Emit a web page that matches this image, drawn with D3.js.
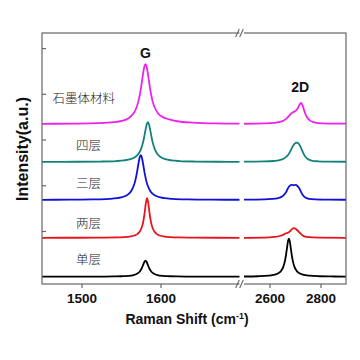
<!DOCTYPE html>
<html><head><meta charset="utf-8">
<script src="https://cdn.jsdelivr.net/npm/d3@7/dist/d3.min.js"></script>
<style>html,body{margin:0;padding:0;background:#fff;}svg{display:block;}</style>
</head><body><svg id="c" width="360" height="360"></svg>
<script>
// ---- data ----
const seriesNames = ["单层", "两层", "三层", "四层", "石墨体材料"];
const seriesColors = ["#000000", "#e8141c", "#1010d8", "#13827a", "#ee22ee"];
const seriesOffsets = [0, 0.85, 1.68, 2.51, 3.34];
const xTicksLeft = [1500, 1600];
const xTicksRight = [2600, 2800];
const yTicks = [1, 2, 3, 4, 5];

// G band (shift, intensity) per series
const gShift = [
  [1450,1491,1521,1541,1551,1559,1565,1569,1572,1574,1576,1578,1579.5,1581,1582.5,1584,1586,1588,1590,1593,1597,1603,1611,1621,1641,1671,1700],
  [1450,1493,1523,1543,1553,1561,1567,1571,1574,1576,1578,1580,1581.5,1583,1584.5,1586,1588,1590,1592,1595,1599,1605,1613,1623,1643,1673,1700],
  [1450,1485,1515,1535,1545,1553,1559,1563,1566,1568,1570,1572,1573.5,1575,1576.5,1578,1580,1582,1584,1587,1591,1597,1605,1615,1635,1665,1700],
  [1450,1494,1524,1544,1554,1562,1568,1572,1575,1577,1579,1581,1582.5,1584,1585.5,1587,1589,1591,1593,1596,1600,1606,1614,1624,1644,1674,1700],
  [1450,1491,1521,1541,1551,1559,1565,1569,1572,1574,1576,1578,1579.5,1581,1582.5,1584,1586,1588,1590,1593,1597,1603,1611,1621,1641,1671,1700]
];
const gIntensity = [
  [0.0005,0.0011,0.0024,0.0054,0.0095,0.017,0.031,0.052,0.083,0.118,0.175,0.257,0.321,0.35,0.321,0.257,0.175,0.118,0.083,0.052,0.031,0.017,0.0095,0.0054,0.0024,0.0011,0.0006],
  [0.0008,0.0017,0.0038,0.0086,0.015,0.028,0.051,0.087,0.144,0.214,0.339,0.557,0.763,0.87,0.763,0.557,0.339,0.214,0.144,0.087,0.051,0.028,0.015,0.0086,0.0038,0.0017,0.001],
  [0.002,0.0043,0.0097,0.0216,0.0377,0.068,0.121,0.196,0.302,0.415,0.578,0.784,0.922,0.98,0.922,0.784,0.578,0.415,0.302,0.196,0.121,0.068,0.0377,0.0216,0.0097,0.0043,0.0025],
  [0.0018,0.0038,0.0086,0.019,0.0335,0.06,0.107,0.174,0.268,0.369,0.513,0.696,0.819,0.87,0.819,0.696,0.513,0.369,0.268,0.174,0.107,0.06,0.0335,0.019,0.0086,0.0038,0.0025],
  [0.0038,0.0079,0.0176,0.039,0.068,0.12,0.211,0.333,0.494,0.655,0.867,1.107,1.252,1.31,1.252,1.107,0.867,0.655,0.494,0.35,0.23,0.15,0.10,0.06,0.03,0.012,0.007]
];

// 2D band (shift, intensity) per series
const dShift = [
  [2500,2556,2596,2621,2636,2646,2654,2660,2665,2669,2673,2676,2679,2683,2687,2692,2698,2706,2716,2731,2756,2796,2852,2900],
  [2500,2600,2620,2640,2655,2665,2672,2680,2688,2695,2702,2710,2720,2730,2745,2770,2800,2900],
  [2500,2580,2610,2630,2645,2655,2665,2672,2680,2687,2695,2703,2710,2718,2725,2733,2742,2755,2780,2830,2900],
  [2500,2580,2615,2640,2655,2665,2675,2683,2690,2697,2704,2711,2718,2725,2732,2740,2750,2765,2790,2830,2900],
  [2500,2580,2620,2645,2660,2672,2682,2690,2700,2708,2714,2720,2724,2728,2734,2740,2748,2758,2770,2790,2830,2900]
];
const dIntensity = [
  [0.0045,0.0096,0.021,0.044,0.079,0.131,0.215,0.33,0.484,0.643,0.789,0.83,0.789,0.643,0.484,0.33,0.215,0.131,0.079,0.044,0.021,0.0096,0.0045,0.003],
  [0,0.01,0.02,0.04,0.07,0.1,0.11,0.14,0.19,0.21,0.2,0.16,0.1,0.05,0.02,0.008,0.004,0],
  [0.005,0.01,0.02,0.035,0.06,0.1,0.17,0.25,0.31,0.33,0.32,0.33,0.3,0.24,0.16,0.09,0.045,0.02,0.01,0.005,0.003],
  [0.005,0.01,0.02,0.04,0.07,0.11,0.17,0.25,0.33,0.39,0.42,0.415,0.37,0.29,0.2,0.12,0.065,0.03,0.014,0.007,0.004],
  [0.005,0.012,0.025,0.05,0.09,0.15,0.21,0.25,0.28,0.32,0.38,0.44,0.46,0.43,0.33,0.23,0.14,0.08,0.045,0.02,0.01,0.006]
];

// ---- drawing ----
const svg = d3.select("#c");
const L = 42, R = 346, T = 33, B = 284;
const xL = d3.scaleLinear().domain([1450, 1700]).range([L, 239.5]);
const xR = d3.scaleLinear().domain([2500, 2900]).range([244, R]);
const y = d3.scaleLinear().domain([-0.16, 5.33]).range([B, T]);

const g = svg.append("g");

function drawSeg(xs, ys, xScale, off, color) {
  const pts = xs.map((v, i) => [v, ys[i] + off]);
  const line = d3.line().x(d => xScale(d[0])).y(d => y(d[1])).curve(d3.curveMonotoneX);
  g.append("path").datum(pts).attr("d", line)
    .attr("fill", "none").attr("stroke", color).attr("stroke-width", 1.8)
    .attr("stroke-linejoin", "round");
}
seriesNames.forEach((n, i) => {
  drawSeg(gShift[i], gIntensity[i], xL, seriesOffsets[i], seriesColors[i]);
  drawSeg(dShift[i], dIntensity[i], xR, seriesOffsets[i], seriesColors[i]);
});

// frame
const frameColor = "#666";
svg.append("rect").attr("x", L).attr("y", T).attr("width", R - L).attr("height", B - T)
  .attr("fill", "none").attr("stroke", frameColor).attr("stroke-width", 1.2);

// axes
const fmt = d3.format("d");
const axB1 = svg.append("g").attr("transform", `translate(0,${B})`)
  .call(d3.axisBottom(xL).tickValues(xTicksLeft).tickFormat(fmt).tickSize(4).tickPadding(5));
const axB2 = svg.append("g").attr("transform", `translate(0,${B})`)
  .call(d3.axisBottom(xR).tickValues(xTicksRight).tickFormat(fmt).tickSize(4).tickPadding(5));
const axY = svg.append("g").attr("transform", `translate(${L},0)`)
  .call(d3.axisLeft(y).tickValues(yTicks).tickSizeInner(-4).tickSizeOuter(0).tickFormat(""));
[axB1, axB2, axY].forEach(a => {
  a.select(".domain").remove();
  a.selectAll("line").attr("stroke", frameColor).attr("stroke-width", 1.2);
  a.selectAll("text").attr("font-family", "Liberation Sans, Arial, sans-serif")
    .attr("font-weight", "bold").attr("font-size", 13.5).attr("fill", "#111");
});

// break marks
[T, B].forEach(yy => {
  svg.append("rect").attr("x", 239.5).attr("y", yy - 1).attr("width", 4.5).attr("height", 2).attr("fill", "#fff");
  [237.5, 241.5].forEach(xx => {
    svg.append("line").attr("x1", xx - 1.8).attr("y1", yy + 4).attr("x2", xx + 1.8).attr("y2", yy - 4)
      .attr("stroke", frameColor).attr("stroke-width", 1.1);
  });
});

// axis titles
svg.append("text").attr("transform", "translate(28,149) rotate(-90)")
  .attr("text-anchor", "middle").attr("font-family", "Liberation Sans, Arial, sans-serif")
  .attr("font-weight", "bold").attr("font-size", 16).attr("fill", "#111").text("Intensity(a.u.)");
const xt = svg.append("text").attr("x", 187).attr("y", 324).attr("text-anchor", "middle")
  .attr("font-family", "Liberation Sans, Arial, sans-serif").attr("font-weight", "bold")
  .attr("font-size", 14).attr("fill", "#111");
xt.append("tspan").text("Raman Shift (cm");
xt.append("tspan").attr("dy", -5).attr("font-size", 9).text("-1");
xt.append("tspan").attr("dy", 5).text(")");

// peak labels
const peakLabels = ["G", "2D"];
svg.append("text").attr("x", xL(1581)).attr("y", 58).attr("text-anchor", "middle")
  .attr("font-family", "Liberation Sans, Arial, sans-serif").attr("font-weight", "bold")
  .attr("font-size", 14).attr("fill", "#111").text(peakLabels[0]);
svg.append("text").attr("x", xR(2720)).attr("y", 92).attr("text-anchor", "middle")
  .attr("font-family", "Liberation Sans, Arial, sans-serif").attr("font-weight", "bold")
  .attr("font-size", 14).attr("fill", "#111").text(peakLabels[1]);

// series labels
const labelPos = [[76, 259], [76, 223], [76, 183], [76, 145], [52.5, 98.5]];
seriesNames.forEach((n, i) => {
  svg.append("text").attr("x", labelPos[i][0]).attr("y", labelPos[i][1]).attr("dy", "0.36em")
    .attr("font-family", "Noto Sans CJK SC").attr("font-weight", 300)
    .attr("font-size", 12.5).attr("fill", "#222").text(n);
});
</script></body></html>
